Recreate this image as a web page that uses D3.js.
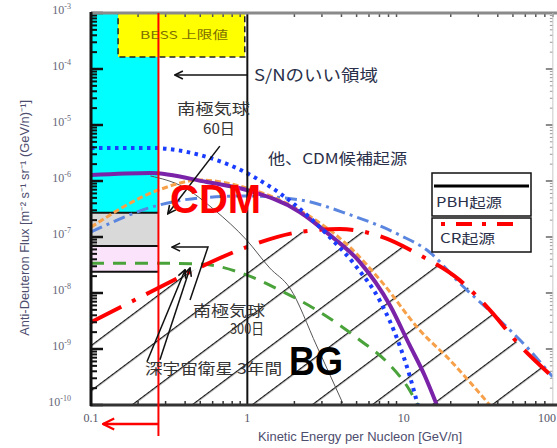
<!DOCTYPE html>
<html>
<head>
<meta charset="utf-8">
<script src="https://cdn.jsdelivr.net/npm/d3@7"></script>
<style>
  body { margin: 0; background: #fff; }
  text { font-family: "Noto Sans CJK JP", "Liberation Sans", sans-serif; }
</style>
</head>
<body>
<div id="chart"></div>
<script>
// ---------------------------------------------------------
// DATA (energy in GeV/n, flux in m^-2 s^-1 sr^-1 (GeV/n)^-1)
// ---------------------------------------------------------
var xTicks = [0.1, 1, 10, 100];
var xTickLabels = ["0.1", "1", "10", "100"];
var yTicks = [1e-3, 1e-4, 1e-5, 1e-6, 1e-7, 1e-8, 1e-9, 1e-10];
var yTickExp = ["-3", "-4", "-5", "-6", "-7", "-8", "-9", "-10"];

// PBH origin (purple solid)
var pbhE = [0.1, 0.24, 0.55, 0.99, 2.16, 3.36, 5.23, 8.15, 10.9, 13.6, 16.3];
var pbhF = [1.28e-6, 1.39e-6, 9.6e-7, 6.9e-7, 2.8e-7, 1.09e-7, 3.6e-8, 6.1e-9, 1.18e-9, 3.4e-10, 1e-10];

// other CDM candidates (blue dotted)
var cdmDotE = [0.1, 0.24, 0.5, 0.99, 1.95, 3.36, 5.0, 7.0, 9.4, 10.9, 12.3];
var cdmDotF = [3.9e-6, 3.9e-6, 2.9e-6, 1.39e-6, 4.05e-7, 1.0e-7, 2.9e-8, 7.5e-9, 1.18e-9, 3.4e-10, 1e-10];

// other CDM candidates (orange dashed)
var cdmDashE = [0.1, 0.27, 0.5, 0.99, 2.16, 4.52, 7.35, 12.6, 19.7, 35.5];
var cdmDashF = [1.5e-7, 6.9e-7, 1.04e-6, 7.5e-7, 3.0e-7, 6.6e-8, 1.5e-8, 2.2e-9, 6.4e-10, 1e-10];

// other CDM candidates (light blue dash-dot)
var cdmDashDotE = [0.1, 0.27, 0.5, 0.99, 2.16, 4.52, 9.4, 14.6, 22.8, 41, 63.8, 89.5];
var cdmDashDotF = [1.23e-7, 3.7e-7, 5.0e-7, 5.4e-7, 4.6e-7, 2.5e-7, 1.09e-7, 5.4e-8, 1.5e-8, 3.3e-9, 9.6e-10, 3.2e-10];

// other CDM candidates (green dashed)
var cdmGreenE = [0.1, 0.28, 0.5, 0.99, 1.61, 2.9, 5.23, 8.15, 10.9, 12.3];
var cdmGreenF = [3.4e-8, 3.4e-8, 3.3e-8, 2.1e-8, 1.13e-8, 4.6e-9, 1.45e-9, 5.2e-10, 1.85e-10, 1e-10];

// cosmic-ray origin (red dash-dot)
var crE = [0.1, 0.24, 0.5, 0.99, 2.16, 3.9, 7.0, 12.6, 22.8, 35.5, 55, 89.5];
var crF = [3.0e-9, 1.04e-8, 2.9e-8, 6.6e-8, 1.23e-7, 1.39e-7, 1.04e-7, 4.8e-8, 1.7e-8, 5.0e-9, 1.18e-9, 3.2e-10];

// thin background line
var bgE = [0.24, 0.39, 0.62, 0.99, 1.39, 1.87, 2.78, 4.07];
var bgF = [1.23e-6, 7.8e-7, 3.0e-7, 8.8e-8, 2.8e-8, 1.23e-8, 1.13e-9, 1.09e-10];

// sensitivity bands below the cut energy
var cutE = 0.27;
var bandTopF = [1e-3, 2.7e-7, 6.9e-8];
var bandBottomF = [2.7e-7, 6.9e-8, 2.4e-8];
var bandColors = ["#00ffff", "#d9d9d9", "#fbe3fb"];

// BESS upper limit box
var bessE = [0.149, 0.963];
var bessF = [1e-3, 1.64e-4];

// #########################################################
// SVG CANVAS
// #########################################################
var width = 557, height = 448;
var svg = d3.select("#chart").append("svg")
    .attr("width", width)
    .attr("height", height);

var x = d3.scaleLog().domain([0.1, 100]).range([91, 560]);
var y = d3.scaleLog().domain([1e-10, 1e-3]).range([405, 13]);
var xRight = x(90);

var defs = svg.append("defs");
defs.append("clipPath").attr("id", "plotClip")
  .append("rect")
    .attr("x", x(0.1)).attr("y", y(1e-3))
    .attr("width", xRight - x(0.1)).attr("height", y(1e-10) - y(1e-3));

// hatch pattern
var hatch = defs.append("pattern")
    .attr("id", "hatch")
    .attr("patternUnits", "userSpaceOnUse")
    .attr("width", 20).attr("height", 36)
    .attr("patternTransform", "translate(91,390) rotate(-36.87)");
hatch.append("line")
    .attr("x1", 0).attr("x2", 20).attr("y1", 0.6).attr("y2", 0.6)
    .attr("stroke", "#1a1a1a").attr("stroke-width", 1.4);

function arrowMarker(id, color, size) {
  defs.append("marker")
      .attr("id", id)
      .attr("viewBox", "0 0 10 10")
      .attr("refX", 9).attr("refY", 5)
      .attr("markerWidth", size).attr("markerHeight", size)
      .attr("markerUnits", "userSpaceOnUse")
      .attr("orient", "auto")
    .append("path")
      .attr("d", "M1,1 L9,5 L1,9")
      .attr("fill", "none")
      .attr("stroke", color)
      .attr("stroke-width", 1.6);
}
arrowMarker("arrowBlack", "#111", 10);
arrowMarker("arrowRed", "#ff0000", 14);

var plot = svg.append("g").attr("clip-path", "url(#plotClip)");

// bands
plot.selectAll(".band")
  .data(bandTopF)
  .enter().append("rect")
    .attr("class", "band")
    .attr("x", x(0.1))
    .attr("y", d => y(d))
    .attr("width", x(cutE) - x(0.1))
    .attr("height", (d, i) => y(bandBottomF[i]) - y(d))
    .attr("fill", (d, i) => bandColors[i]);

plot.selectAll(".bandEdge")
  .data(bandBottomF)
  .enter().append("line")
    .attr("x1", x(0.1)).attr("x2", x(cutE))
    .attr("y1", d => y(d)).attr("y2", d => y(d))
    .attr("stroke", "#111").attr("stroke-width", 2);

// BESS box
plot.append("rect")
    .attr("x", x(bessE[0])).attr("y", y(bessF[0]))
    .attr("width", x(bessE[1]) - x(bessE[0]))
    .attr("height", y(bessF[1]) - y(bessF[0]))
    .attr("fill", "#ffff00")
    .attr("stroke", "#222").attr("stroke-width", 1.5)
    .attr("stroke-dasharray", "6,4");

// hatched BG region (below the CR curve)
var crPts = crE.map((e, i) => [e, crF[i]]);
var area = d3.area()
    .x(d => x(d[0]))
    .y0(y(1e-10))
    .y1(d => y(d[1]))
    .curve(d3.curveMonotoneX);
plot.append("path")
    .datum(crPts)
    .attr("d", area)
    .attr("fill", "url(#hatch)");

// curves
var line = d3.line()
    .x(d => x(d[0]))
    .y(d => y(d[1]))
    .curve(d3.curveMonotoneX);

function zip(a, b) { return a.map((v, i) => [v, b[i]]); }

var curves = [
  {pts: zip(bgE, bgF), color: "#555", w: 1, dash: null},
  {pts: zip(cdmGreenE, cdmGreenF), color: "#4aa23a", w: 3, dash: "13,9"},
  {pts: zip(cdmDashDotE, cdmDashDotF), color: "#5b86e0", w: 3, dash: "12,5,3,5"},
  {pts: zip(cdmDashE, cdmDashF), color: "#f7a04a", w: 3, dash: "6,3"},
  {pts: zip(crE, crF), color: "#ff0000", w: 4, dash: "34,12,4,12"},
  {pts: zip(pbhE, pbhF), color: "#7a22a8", w: 4, dash: null},
  {pts: zip(cdmDotE, cdmDotF), color: "#1a3cff", w: 4, dash: "3.5,4.5"}
];

plot.selectAll(".curve")
  .data(curves)
  .enter().append("path")
    .attr("class", "curve")
    .attr("d", d => line(d.pts))
    .attr("fill", "none")
    .attr("stroke", d => d.color)
    .attr("stroke-width", d => d.w)
    .attr("stroke-dasharray", d => d.dash);

// E = 1 GeV/n line
svg.append("line")
    .attr("x1", x(1)).attr("x2", x(1))
    .attr("y1", y(1e-3)).attr("y2", y(1e-10))
    .attr("stroke", "#111").attr("stroke-width", 2);

// #########################################################
// AXES
// #########################################################
var minorX = [];
[0.1, 1, 10].forEach(d => { for (var k = 2; k <= 9; k++) minorX.push(d * k); });
var minorY = [];
[1e-10, 1e-9, 1e-8, 1e-7, 1e-6, 1e-5, 1e-4].forEach(d => { for (var k = 2; k <= 9; k++) minorY.push(d * k); });

var frame = svg.append("g");
// ticks: left (inward)
frame.selectAll(".ylmin").data(minorY).enter().append("line")
    .attr("x1", x(0.1)).attr("x2", x(0.1) + 6)
    .attr("y1", d => y(d)).attr("y2", d => y(d))
    .attr("stroke", "#111").attr("stroke-width", 2);
frame.selectAll(".ylmaj").data(yTicks).enter().append("line")
    .attr("x1", x(0.1)).attr("x2", x(0.1) + 12)
    .attr("y1", d => y(d)).attr("y2", d => y(d))
    .attr("stroke", "#111").attr("stroke-width", 2.5);
// ticks: right
frame.selectAll(".yrmin").data(minorY).enter().append("line")
    .attr("x1", xRight).attr("x2", xRight - 3)
    .attr("y1", d => y(d)).attr("y2", d => y(d))
    .attr("stroke", "#999").attr("stroke-width", 1);
frame.selectAll(".yrmaj").data(yTicks).enter().append("line")
    .attr("x1", xRight).attr("x2", xRight - 7)
    .attr("y1", d => y(d)).attr("y2", d => y(d))
    .attr("stroke", "#666").attr("stroke-width", 1.5);
// ticks: bottom and top
frame.selectAll(".xbmin").data(minorX.filter(d => d < 90)).enter().append("line")
    .attr("x1", d => x(d)).attr("x2", d => x(d))
    .attr("y1", y(1e-10)).attr("y2", y(1e-10) - 4)
    .attr("stroke", "#333").attr("stroke-width", 1.5);
frame.selectAll(".xtmin").data(minorX.filter(d => d <= 90)).enter().append("line")
    .attr("x1", d => x(d)).attr("x2", d => x(d))
    .attr("y1", y(1e-3)).attr("y2", y(1e-3) + 4)
    .attr("stroke", "#555").attr("stroke-width", 1.5);

// frame lines
frame.append("line")
    .attr("x1", x(0.1)).attr("x2", width)
    .attr("y1", y(1e-3)).attr("y2", y(1e-3))
    .attr("stroke", "#8a8a8a").attr("stroke-width", 3);
frame.append("line")
    .attr("x1", xRight).attr("x2", xRight)
    .attr("y1", y(1e-3)).attr("y2", y(1e-10))
    .attr("stroke", "#c8c8c8").attr("stroke-width", 1);
frame.append("line")
    .attr("x1", x(0.1) - 1).attr("x2", width)
    .attr("y1", y(1e-10)).attr("y2", y(1e-10))
    .attr("stroke", "#333").attr("stroke-width", 3);
frame.append("line")
    .attr("x1", x(0.1)).attr("x2", x(0.1))
    .attr("y1", y(1e-3) - 1).attr("y2", y(1e-10) + 1)
    .attr("stroke", "#111").attr("stroke-width", 3);

// y tick labels
var yl = svg.selectAll(".ylab").data(yTicks).enter().append("text")
    .attr("class", "ylab")
    .attr("x", 71)
    .attr("y", d => y(d) + 1)
    .attr("text-anchor", "end")
    .attr("fill", "#666677")
    .style("font-family", "Liberation Serif, serif")
    .style("font-size", "12px");
yl.append("tspan").text("10");
yl.append("tspan")
    .attr("dy", -5)
    .style("font-size", "8px")
    .text((d, i) => yTickExp[i]);

// x tick labels
svg.selectAll(".xlab").data(xTicks).enter().append("text")
    .attr("x", (d, i) => i === xTicks.length - 1 ? width - 1 : x(d))
    .attr("y", 422)
    .attr("text-anchor", (d, i) => i === xTicks.length - 1 ? "end" : "middle")
    .attr("fill", "#555566")
    .style("font-family", "Liberation Serif, serif")
    .style("font-size", "12px")
    .text((d, i) => xTickLabels[i]);

// axis titles
svg.append("text")
    .attr("transform", "translate(29," + y(2.2e-7) + ") rotate(-90)")
    .attr("text-anchor", "middle")
    .attr("fill", "#4d4d6e")
    .style("font-family", "Liberation Sans, sans-serif")
    .style("font-size", "12px")
    .attr("textLength", 236)
    .attr("lengthAdjust", "spacingAndGlyphs")
    .text("Anti-Deuteron Flux [m\u207B\u00B2 s\u207B\u00B9 sr\u207B\u00B9 (GeV/n)\u207B\u00B9]");

svg.append("text")
    .attr("x", 360).attr("y", 441)
    .attr("text-anchor", "middle")
    .attr("fill", "#4d4d6e")
    .style("font-family", "Liberation Sans, sans-serif")
    .style("font-size", "12px")
    .attr("textLength", 204)
    .attr("lengthAdjust", "spacingAndGlyphs")
    .text("Kinetic Energy per Nucleon [GeV/n]");

// #########################################################
// ANNOTATIONS
// #########################################################
// cut energy (red) with arrow to lower energy
svg.append("line")
    .attr("x1", x(cutE)).attr("x2", x(cutE))
    .attr("y1", y(1e-3)).attr("y2", 436)
    .attr("stroke", "#ff0000").attr("stroke-width", 2);
svg.append("line")
    .attr("x1", x(cutE)).attr("x2", 103)
    .attr("y1", 424).attr("y2", 424)
    .attr("stroke", "#ff0000").attr("stroke-width", 2.5)
    .attr("marker-end", "url(#arrowRed)");

// arrows (in data coordinates)
var arrows = [
  [[1, 7.8e-5], [0.344, 7.8e-5]],
  [[0.667, 4.2e-6], [0.31, 2.6e-7]],
  [[0.43, 7.5e-9], [0.56, 6.6e-8], [0.33, 6.6e-8]],
  [[0.228, 5.9e-10], [0.40, 2.6e-8]],
  [[0.276, 6.4e-10], [0.43, 2.8e-8]]
];
var straight = d3.line().x(d => x(d[0])).y(d => y(d[1]));
svg.selectAll(".arrow").data(arrows).enter().append("path")
    .attr("d", straight)
    .attr("fill", "none")
    .attr("stroke", "#111").attr("stroke-width", 1.5)
    .attr("marker-end", "url(#arrowBlack)");

function label(txt, px, py, opts) {
  opts = opts || {};
  var t = svg.append("text")
      .attr("x", px).attr("y", py)
      .attr("fill", opts.color || "#2a2f4a")
      .style("font-size", (opts.size || 14) + "px")
      .style("font-weight", opts.weight || "normal")
      .text(txt);
  if (opts.family) t.style("font-family", opts.family);
  if (opts.len) t.attr("textLength", opts.len).attr("lengthAdjust", "spacingAndGlyphs");
  return t;
}

label("BESS 上限値", 140, 39, {size: 11, color: "#7d7000", len: 88});
label("S/Nのいい領域", 254, 81, {size: 16, len: 124});
label("南極気球", 177, 114, {size: 15, color: "#333", len: 73});
label("60日", 203, 134, {size: 15, color: "#333", len: 32});
label("他、CDM候補起源", 268, 164, {size: 15, len: 139});
label("CDM", 170, 213, {size: 40, color: "#ff0000", weight: "bold", family: "Liberation Sans, sans-serif"});
label("南極気球", 193, 316, {size: 15, color: "#333", len: 72});
label("300日", 230, 334, {size: 15, color: "#333", len: 34});
label("深宇宙衛星 3年間", 145, 374, {size: 15, color: "#333", len: 137});
label("BG", 289, 375, {size: 40, color: "#000", weight: "bold", family: "Liberation Sans, sans-serif", len: 54});

// legend
var legend = svg.append("g");
legend.append("rect")
    .attr("x", 432).attr("y", 173).attr("width", 99).attr("height", 43)
    .attr("fill", "#fff").attr("stroke", "#111").attr("stroke-width", 1.5);
legend.append("rect")
    .attr("x", 432).attr("y", 218).attr("width", 99).attr("height", 34)
    .attr("fill", "#fff").attr("stroke", "#111").attr("stroke-width", 1.5);
legend.append("line")
    .attr("x1", 434).attr("x2", 529).attr("y1", 186).attr("y2", 186)
    .attr("stroke", "#000").attr("stroke-width", 3);
legend.append("line")
    .attr("x1", 441).attr("x2", 520).attr("y1", 224).attr("y2", 224)
    .attr("stroke", "#ff0000").attr("stroke-width", 4)
    .attr("stroke-dasharray", "4,11,16,10");
label("PBH起源", 436, 207, {size: 13, len: 66});
label("CR起源", 440, 243, {size: 13, len: 55});
</script>
</body>
</html>
